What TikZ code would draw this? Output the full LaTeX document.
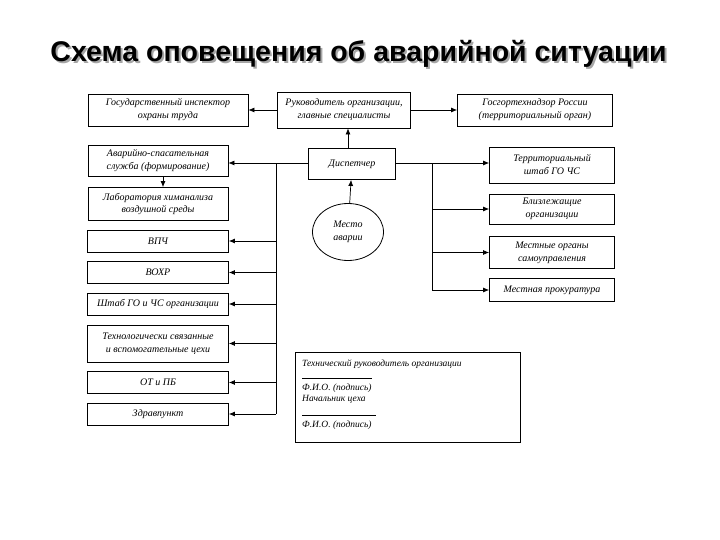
\documentclass[tikz,border=0pt]{standalone}
\usepackage{fontspec}
\setmainfont{Liberation Serif}
\newfontfamily\titlefont{Liberation Sans}
\usetikzlibrary{arrows.meta,shapes.geometric}

\tikzset{
  unit/.style={draw, line width=0.8pt, align=center, inner sep=1pt,
    font=\itshape\fontsize{10}{13}\selectfont},
  flow/.style={line width=0.7pt, -{Latex[length=6pt,width=5pt]}},
  bus/.style={line width=0.7pt},
  sigtext/.style={anchor=base west, inner sep=0pt, font=\itshape\fontsize{9.5}{11}\selectfont}
}

\begin{document}
\begin{tikzpicture}[x=1pt,y=-1pt]
  \useasboundingbox (0,0) rectangle (720,540);

  % title with shadow
  \node[font=\titlefont\bfseries\fontsize{28.5}{32}\selectfont, text=black!35] at (360.5,56) {Схема оповещения об аварийной ситуации};
  \node (T) [font=\titlefont\bfseries\fontsize{28.5}{32}\selectfont] at (358.5,54) {Схема оповещения об аварийной ситуации};

  % top row
  \node (INSP) [unit, minimum width=160, minimum height=32] at (168,110) {Государственный инспектор\\охраны труда};
  \node (HEAD) [unit, minimum width=133, minimum height=36] at (344,110) {Руководитель организации,\\главные специалисты};
  \node (GGTN) [unit, minimum width=155, minimum height=32] at (535,110) {Госгортехнадзор России\\(территориальный орган)};

  % centre
  \node (DISP) [unit, minimum width=87, minimum height=31] at (352,164) {Диспетчер};
  \node (SITE) [unit, ellipse, minimum width=71, minimum height=57] at (348,232) {Место\\аварии};

  % left column
  \node (RESC) [unit, minimum width=140, minimum height=31] at (158,161) {Аварийно-спасательная\\служба (формирование)};
  \node (LAB)  [unit, minimum width=140, minimum height=33] at (158,204) {Лаборатория химанализа\\воздушной среды};
  \node (FIRE) [unit, minimum width=141, minimum height=22] at (158,241) {ВПЧ};
  \node (GUARD)[unit, minimum width=141, minimum height=22] at (158,272.5) {ВОХР};
  \node (CDHQ) [unit, minimum width=141, minimum height=22] at (158,304) {Штаб ГО и ЧС организации};
  \node (SHOP) [unit, minimum width=141, minimum height=37] at (158,343.5) {Технологически связанные\\и вспомогательные цехи};
  \node (SAFE) [unit, minimum width=141, minimum height=22] at (158,382.5) {ОТ и ПБ};
  \node (MED)  [unit, minimum width=141, minimum height=22] at (158,414) {Здравпункт};

  % right column
  \node (TERR) [unit, minimum width=125, minimum height=36] at (552,165) {Территориальный\\штаб ГО ЧС};
  \node (NEAR) [unit, minimum width=125, minimum height=30] at (552,209) {Близлежащие\\организации};
  \node (LOCAL)[unit, minimum width=125, minimum height=32] at (552,252.5) {Местные органы\\самоуправления};
  \node (PROS) [unit, minimum width=125, minimum height=23] at (552,290) {Местная прокуратура};

  % signatures
  \node (SIGN) [draw, line width=0.8pt, minimum width=225, minimum height=90] at (408,397) {};
  \node (S1) [sigtext] at (302,366) {Технический руководитель организации};
  \coordinate (L1a) at (302,378); \coordinate (L1b) at (372,378);
  \node (S2) [sigtext] at (302,390) {Ф.И.О. (подпись)};
  \node (S3) [sigtext] at (302,401) {Начальник цеха};
  \coordinate (L2a) at (302,415); \coordinate (L2b) at (376,415);
  \node (S4) [sigtext] at (302,427) {Ф.И.О. (подпись)};
  \draw[line width=0.5pt] (L1a) -- (L1b);
  \draw[line width=0.5pt] (L2a) -- (L2b);

  % buses
  \coordinate (LT) at (276,163);
  \coordinate (LB) at (276,414);
  \coordinate (RT) at (432,163);
  \coordinate (RB) at (432,290);
  \draw[bus] (DISP.west |- LT) -- (LT) -- (LB);
  \draw[bus] (DISP.east |- RT) -- (RT) -- (RB);

  % arrows
  \path[flow] (HEAD) edge (INSP);
  \path[flow] (HEAD) edge (GGTN);
  \path[flow] (DISP.north -| SITE) edge (HEAD.south -| SITE);
  \path[flow] (SITE) edge (DISP);
  \path[flow] (RESC.south -| 163,0) edge (LAB.north -| 163,0);
  \path[flow] (LT) edge (LT -| RESC.east);
  \path[flow] (FIRE -| LT) edge (FIRE.east);
  \path[flow] (GUARD -| LT) edge (GUARD.east);
  \path[flow] (CDHQ -| LT) edge (CDHQ.east);
  \path[flow] (SHOP -| LT) edge (SHOP.east);
  \path[flow] (SAFE -| LT) edge (SAFE.east);
  \path[flow] (MED -| LT) edge (MED.east);
  \path[flow] (RT) edge (RT -| TERR.west);
  \path[flow] (NEAR -| RT) edge (NEAR.west);
  \path[flow] (LOCAL -| RT) edge (LOCAL.west);
  \path[flow] (PROS -| RT) edge (PROS.west);
\end{tikzpicture}
\end{document}
